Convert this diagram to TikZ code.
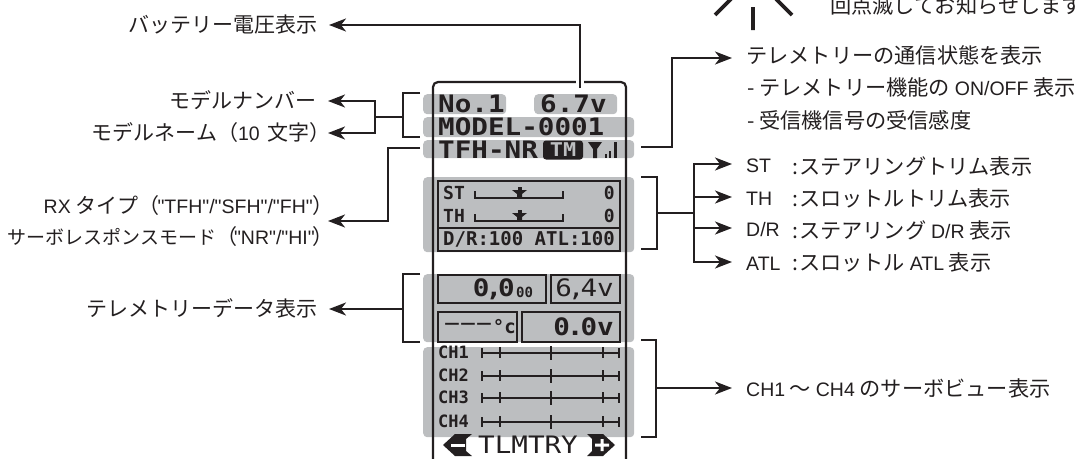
\documentclass[tikz,border=0pt]{standalone}
\usepackage{fontspec}
\usetikzlibrary{arrows.meta}
\newfontfamily\cjk{Noto Sans CJK JP}
\newfontfamily\lat{Liberation Sans}
\newfontfamily\lcd[FakeStretch=1.15]{DejaVu Sans Mono}
\newfontfamily\lcdw[FakeStretch=1.15]{DejaVu Sans Mono Bold}
\newfontfamily\lcdb{DejaVu Sans Mono Bold}
\definecolor{ink}{HTML}{231F20}
\definecolor{lcdgrey}{HTML}{BCBEC0}
\tikzset{
  wire/.style={draw=ink,line width=2.2pt},
  arrowwire/.style={wire,-{Stealth[length=17pt,width=13pt,inset=5pt]}},
  greybar/.style={fill=lcdgrey,rounded corners=4pt,inner sep=0pt,anchor=north west},
  lcdbox/.style={draw=ink,line width=2.6pt,inner sep=0pt,anchor=north west},
  lefttext/.style={anchor=east,inner ysep=0pt,inner xsep=11pt,text height=20pt,text depth=5pt,text=ink,font=\cjk\fontsize{21}{31}\selectfont},
  righttext/.style={anchor=west,inner ysep=0pt,inner xsep=14pt,text height=20pt,text depth=4pt,text=ink,font=\cjk\fontsize{21.2}{31}\selectfont},
  plaintext/.style={anchor=west,inner sep=0pt,text=ink,font=\cjk\fontsize{21.2}{31}\selectfont},
  lcdtext/.style={inner sep=0pt,text=ink,font=\lcdw\fontsize{24}{24}\selectfont},
  lcdsmall/.style={inner sep=0pt,text=ink,font=\lcdb\fontsize{18}{18}\selectfont},
}
\newcommand{\la}[1]{{\lat\fontsize{19.5}{19}\selectfont #1}}
\begin{document}
\begin{tikzpicture}[x=1pt,y=-1pt]
  \useasboundingbox (0,0) rectangle (1075,458);
  \clip (0,0) rectangle (1075,458);

  % grey areas
  \node[greybar,minimum width=83pt,minimum height=20pt] (numbar) at (423,94) {};
  \node[greybar,minimum width=83pt,minimum height=20pt] (voltbar) at (534,94) {};
  \node[greybar,minimum width=211pt,minimum height=20pt] (namebar) at (423,117) {};
  \node[greybar,minimum width=211pt,minimum height=18pt] (typebar) at (423,140) {};
  \node[greybar,minimum width=211pt,minimum height=75pt] (trimbar) at (423,177) {};
  \node[greybar,minimum width=211pt,minimum height=68pt] (databar) at (423,274) {};
  \node[greybar,minimum width=211pt,minimum height=90pt] (chbar) at (423,347) {};

  % screen outline
  \draw[ink,line width=2.2pt,rounded corners=5pt] (433,460) -- (433,82) -- (626,82) -- (626,460);

  % top rows
  \node[lcdtext,anchor=west] (numtext) at (438,104) {No.1};
  \node[lcdtext,anchor=west] (volttext) at (540,104) {6.7v};
  \node[lcdtext,anchor=west] (nametext) at (438,127) {MODEL-0001};
  \node[lcdtext,anchor=west] (typetext) at (438,150) {TFH-NR};
  \node[fill=ink,rounded corners=3pt,inner sep=0pt,minimum width=40pt,minimum height=19pt,text=lcdgrey,font=\lcdw\fontsize{19}{19}\selectfont] (tmtext) at (563,150) {TM};
  \fill[ink] (588,142) -- (602,142) -- (597,149) -- (597,158) -- (593,158) -- (593,149) -- cycle;
  \fill[ink] (605,154) rectangle (607,158);
  \fill[ink] (609,151) rectangle (611,158);
  \fill[ink] (614,142) rectangle (617,158);

  % trim block
  \draw[ink,line width=2.6pt] (438,181) rectangle (620,251);
  \draw[ink,line width=2.6pt] (438,228) -- (620,228);
  \node[lcdsmall,anchor=west] (sttext) at (443,193) {ST};
  \node[lcdsmall,anchor=west] (thtext) at (443,216) {TH};
  \node[lcdsmall,anchor=east] (stzero) at (615,193) {0};
  \node[lcdsmall,anchor=east] (thzero) at (615,216) {0};
  \node[lcdsmall,anchor=west,font=\lcdb\fontsize{19}{19}\selectfont] (drtext) at (443,239) {D/R:100 ATL:100};
  \foreach \ty in {198,221} {
    \draw[ink,line width=2.4pt] (475,\ty-7) -- (475,\ty) -- (563,\ty) -- (563,\ty-7);
    \fill[ink] (512,\ty-8) -- (527,\ty-8) -- (522,\ty-4) -- (522,\ty) -- (517,\ty) -- (517,\ty-4) -- cycle;
    \fill[ink] (517.5,\ty-11) rectangle (521.5,\ty-7);
  }

  % telemetry data
  \draw[lcdbox] (438,275) rectangle (546,303);
  \draw[lcdbox] (551,275) rectangle (620,303);
  \draw[lcdbox] (438,312) rectangle (517,342);
  \draw[lcdbox] (522,312) rectangle (620,342);
  \node[lcdtext,anchor=east] (rpmtext) at (515,289) {0\kern-4pt,\kern-4pt0};
  \node[lcdsmall,anchor=west,font=\lcdb\fontsize{14}{14}\selectfont] (rpmunit) at (516,292) {00};
  \node[lcdtext,anchor=east,font=\lcd\fontsize{24}{24}\selectfont] (rxvolt) at (614,289) {6\kern-4pt,\kern-4pt4v};
  \node[lcdtext,anchor=west,font=\lcd\fontsize{23}{23}\selectfont] (temptext) at (444,327) {−−−};
  \node[lcdsmall,anchor=east,font=\lcdb\fontsize{19}{19}\selectfont] (tempunit) at (516,327) {°c};
  \node[lcdtext,anchor=east] (extvolt) at (614,327) {0\kern-3pt.\kern-3pt0v};

  % servo view
  \foreach \n/\cy in {1/353,2/376,3/398,4/422} {
    \node[lcdsmall,anchor=west,font=\lcdb\fontsize{17}{17}\selectfont] (ch\n) at (438,\cy-1) {CH\n};
    \draw[ink,line width=2.2pt] (482,\cy) -- (619,\cy);
    \draw[ink,line width=2.2pt] (482,\cy-5) -- (482,\cy+5) (500,\cy-6) -- (500,\cy+5)
      (551,\cy-7) -- (551,\cy+7) (603,\cy-6) -- (603,\cy+5) (619,\cy-5) -- (619,\cy+5);
  }

  % bottom row
  \node[lcdtext,font=\lcd\fontsize{24}{24}\selectfont] (tlmtext) at (528,445) {TLMTRY};
  \fill[ink] (443,445) -- (455,434) -- (472,434) -- (466,439) -- (466,451) -- (472,456) -- (455,456) -- cycle;
  \fill[white] (451,443.5) rectangle (465,446.5);
  \fill[ink] (615,445) -- (603,434) -- (587,434) -- (592,439) -- (592,451) -- (587,456) -- (603,456) -- cycle;
  \fill[white] (595,443.5) rectangle (609,446.5) (600.5,439) rectangle (603.5,451);

  % left labels
  \node[lefttext] (batterylabel) at (329,25) {バッテリー電圧表示};
  \node[lefttext] (numlabel) at (328,101) {モデルナンバー};
  \node[lefttext] (namelabel) at (328,133) {モデルネーム（\la{10}\hspace{8pt}文字）\kern-14pt};
  \node[lefttext,align=right,inner xsep=8pt,text height=,text depth=] (rxlabel) at (328,221) {\la{RX} タイプ（\kern-2pt\la{"TFH"/"SFH"/"FH"}）\kern-14pt\\{\fontsize{19}{31}\selectfont サーボレスポンスモード}（\kern-3pt\la{"NR"/"HI"}\kern-2pt）\kern-14pt};
  \node[lefttext] (datalabel) at (329,309) {テレメトリーデータ表示};

  % right labels
  \node[righttext,text height=16pt,text depth=6pt] (commlabel) at (732,58) {テレメトリーの通信状態を表示};
  \node[plaintext] (onofflabel) at (747,87) {- テレメトリー機能の \la{ON/OFF} 表示};
  \node[plaintext] (recvlabel) at (747,120) {- 受信機信号の受信感度};
  \node[righttext] (stlabel) at (732,164) {\la{ST}};
  \node[righttext] (thlabel) at (732,197) {\la{TH}};
  \node[righttext] (drlabel) at (732,228) {\la{D/R}};
  \node[righttext] (atllabel) at (732,262) {\la{ATL}};
  \node[plaintext] (stcolon) at (792,166) {:\hspace{1pt}ステアリングトリム表示};
  \node[plaintext] (thcolon) at (792,198) {:\hspace{1pt}スロットルトリム表示};
  \node[plaintext] (drcolon) at (792,230) {:\hspace{1pt}ステアリング \la{D/R} 表示};
  \node[plaintext] (atlcolon) at (792,262) {:\hspace{1pt}スロットル \la{ATL} 表示};
  \node[righttext,text height=20pt] (chlabel) at (732,388) {\la{CH1} 〜 \la{CH4} のサーボビュー表示};

  % blink mark and note
  \draw[ink,line width=3.6pt] (715,15) -- (731,-1) (753,7) -- (753,30) (792,15) -- (776,-1);
  \node[plaintext] (blinknote) at (830,5) {回点滅してお知らせします};

  % connectors
  \coordinate (batterystart) at (580,88);
  \draw[white,line width=8pt] (580,76) -- (batterystart);
  \draw[arrowwire] (batterystart) |- (batterylabel);

  \coordinate (modeltop) at (420,93);
  \coordinate (modelbottom) at (420,137);
  \coordinate (modelmid) at (403,117);
  \coordinate (modeljoin) at (375,117);
  \draw[wire] (modeltop) -| (modelmid) |- (modelbottom);
  \draw[wire] (modelmid) -- (modeljoin);
  \draw[arrowwire] (modeljoin) |- (numlabel);
  \draw[arrowwire] (modeljoin) |- (namelabel);

  \coordinate (typestart) at (420,148);
  \coordinate (typebend) at (388,148);
  \draw[arrowwire] (typestart) -- (typebend) |- (rxlabel);

  \coordinate (datatop) at (420,274);
  \coordinate (databottom) at (420,342);
  \coordinate (datamid) at (403,309);
  \draw[wire] (datatop) -| (datamid) |- (databottom);
  \draw[arrowwire] (datamid) -- (datalabel);

  \coordinate (commstart) at (641,147);
  \coordinate (commbend) at (672,147);
  \draw[arrowwire] (commstart) -- (commbend) |- (commlabel);

  \coordinate (trimtop) at (641,177);
  \coordinate (trimbottom) at (641,249);
  \coordinate (trimmid) at (657,213);
  \coordinate (trimjoin) at (694,213);
  \draw[wire] (trimtop) -| (trimmid) |- (trimbottom);
  \draw[wire] (trimmid) -- (trimjoin);
  \foreach \target in {stlabel,thlabel,drlabel,atllabel}
    \draw[arrowwire] (trimjoin) |- (\target);

  \coordinate (servotop) at (641,340);
  \coordinate (servobottom) at (641,437);
  \coordinate (servomid) at (656,388);
  \draw[wire] (servotop) -| (servomid) |- (servobottom);
  \draw[arrowwire] (servomid) -- (chlabel);
\end{tikzpicture}
\end{document}
